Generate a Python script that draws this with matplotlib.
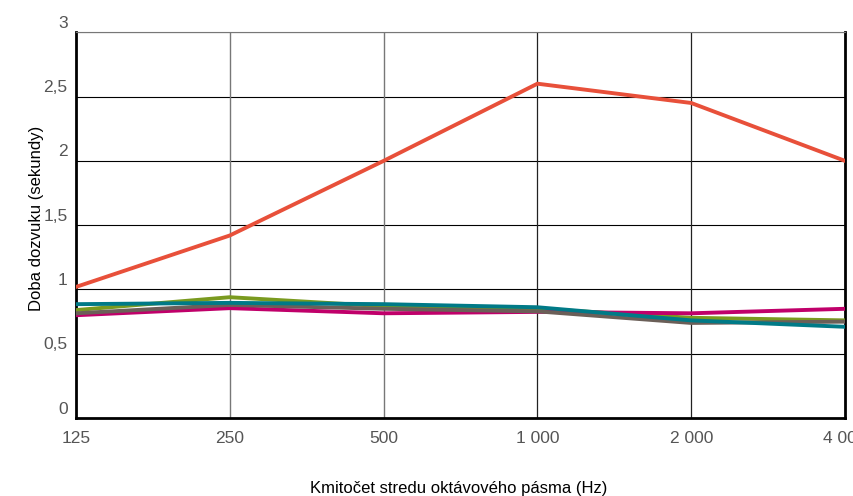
import matplotlib
matplotlib.use('Agg')
import matplotlib.pyplot as plt
import matplotlib.transforms as mtrans

# data
pasma = ['125', '250', '500', '1 000', '2 000', '4 000']
cervena = [1.02, 1.42, 2.0, 2.6, 2.45, 2.0]
zelena = [0.84, 0.94, 0.87, 0.85, 0.78, 0.76]
purpurova = [0.80, 0.855, 0.815, 0.826, 0.815, 0.85]
seda = [0.815, 0.88, 0.85, 0.83, 0.74, 0.75]
modra = [0.886, 0.896, 0.886, 0.862, 0.76, 0.71]
y_ticky = [0, 0.5, 1, 1.5, 2, 2.5, 3]
y_popisky = ['0', '0,5', '1', '1,5', '2', '2,5', '3']

plt.rcParams['font.family'] = ['Liberation Sans', 'DejaVu Sans']

fig = plt.figure(figsize=(8.54, 4.96), dpi=100)
ax = fig.add_axes([0.089, 0.157, 0.9005, 0.778])

x = list(range(len(pasma)))
ax.plot(x, cervena, color='#e8503a', lw=2.8, zorder=3)
ax.plot(x, zelena, color='#7a9a1f', lw=2.8, zorder=3)
ax.plot(x, modra, color='#007a87', lw=2.8, zorder=4)
ax.plot(x, purpurova, color='#c0006a', lw=2.8, zorder=3)
ax.plot(x, seda, color='#6b5f58', lw=2.8, zorder=3)

ax.set_xlim(0, 5)
ax.set_ylim(0, 3)

# mriezka
for yy in y_ticky[1:]:
    ax.axhline(yy, color='black', lw=0.8, zorder=1)
ax.axvline(1, color='#777777', lw=1.0, zorder=1)
ax.axvline(2, color='#777777', lw=1.0, zorder=1)
ax.axvline(3, color='#222222', lw=0.9, zorder=1)
ax.axvline(4, color='#222222', lw=0.9, zorder=1)

for s in ['left', 'bottom', 'right']:
    ax.spines[s].set_linewidth(2)
ax.spines['top'].set_linewidth(0.8)
ax.spines['top'].set_color('#777777')

ax.set_xticks(x)
ax.set_xticklabels(pasma)
ax.set_yticks(y_ticky)
ax.set_yticklabels(y_popisky)
ax.tick_params(length=0, labelsize=12.5, labelcolor='#555555', pad=9)
ax.tick_params(axis='y', pad=6)
posun = mtrans.ScaledTranslation(0, 7.5 / 72, fig.dpi_scale_trans)
for t in ax.get_yticklabels():
    t.set_transform(t.get_transform() + posun)
for t in ax.get_xticklabels() + ax.get_yticklabels():
    t.set_fontweight('light')

fig.text(0.537, 0.0, 'Kmitočet stredu oktávového pásma (Hz)', ha='center',
         va='bottom', fontsize=12)
fig.text(0.043, 0.56, 'Doba dozvuku (sekundy)', ha='center', va='center',
         rotation=90, fontsize=12)

fig.savefig('out.png', dpi=100)
